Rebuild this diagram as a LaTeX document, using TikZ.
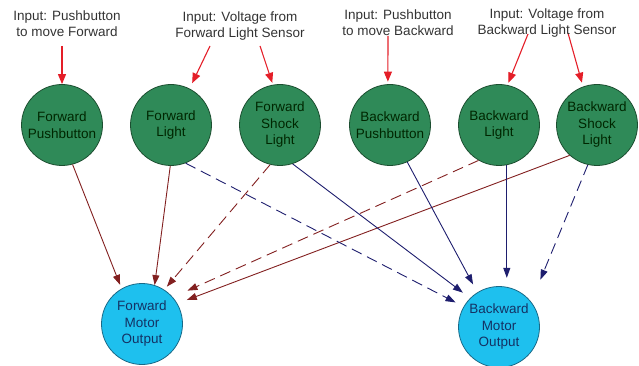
\documentclass[tikz,border=0pt]{standalone}
\usepackage{fontspec}
\setmainfont{Liberation Sans}
\usepackage{xcolor}
\usetikzlibrary{arrows.meta}

\definecolor{nodegreen}{RGB}{47,138,88}
\definecolor{greenline}{RGB}{28,78,48}
\definecolor{motorcyan}{RGB}{30,192,238}
\definecolor{cyanline}{RGB}{25,105,135}
\definecolor{fwdred}{RGB}{130,32,32}
\definecolor{bwdblue}{RGB}{30,30,110}
\definecolor{inred}{RGB}{228,30,40}

\tikzset{
  sensor/.style={circle,draw=greenline,fill=nodegreen,line width=0.8pt,minimum size=81pt,inner sep=0pt,
    align=center,text=black!85!green,font=\fontsize{13.5}{16.5}\selectfont},
  motor/.style={sensor,draw=cyanline,fill=motorcyan,text={rgb,255:red,20;green,50;blue,100}},
  inlabel/.style={align=center,text=black!80,font=\fontsize{13.5}{16}\selectfont},
  inarrow/.style={inred,line width=1.1pt,-{Triangle[length=10pt,width=8pt]}},
  fwdarrow/.style={fwdred,line width=0.9pt,-{Triangle[length=10pt,width=7pt]}},
  bwdarrow/.style={bwdblue,line width=0.9pt,-{Triangle[length=10pt,width=7pt]}},
  dashline/.style={dash pattern=on 11pt off 6pt}
}

\begin{document}
\begin{tikzpicture}[x=1pt,y=-1pt]
  \useasboundingbox (0,0) rectangle (639,366);

  \node[sensor] (FP) at (62,125) {Forward\\Pushbutton};
  \node[sensor] (FL) at (171,125) {Forward\\Light};
  \node[sensor] (FS) at (280,125) {Forward\\Shock\\Light};
  \node[sensor] (BP) at (390,125) {Backward\\Pushbutton};
  \node[sensor] (BL) at (499,125) {Backward\\Light};
  \node[sensor] (BS) at (597,125) {Backward\\Shock\\Light};
  \node[motor] (FM) at (142,324) {Forward\\Motor\\Output};
  \node[motor] (BM) at (499,327) {Backward\\Motor\\Output};

  \coordinate (I1) at (62,46);
  \coordinate (I2) at (210,46);
  \coordinate (I3) at (260,46);
  \coordinate (I4) at (388,36);
  \coordinate (I5) at (528,34);
  \coordinate (I6) at (568,33);

  \draw[inarrow] (I1) -- (FP.north);
  \draw[inarrow,shorten >=6pt] (I2) -- (FL.63);
  \draw[inarrow,shorten >=2pt] (I3) -- (FS.100);
  \draw[inarrow,shorten >=2.5pt] (I4) -- (BP.93);
  \draw[inarrow,shorten >=2.5pt] (I5) -- (BL.78);
  \draw[inarrow,shorten >=4pt] (I6) -- (BS.110);

  \node[inlabel] (L1) at (67,24) {Input: Pushbutton\\to move Forward};
  \node[inlabel] (L2) at (240,26) {Input: Voltage from\\Forward Light Sensor};
  \node[inlabel] (L3) at (398,23) {Input: Pushbutton\\to move Backward};
  \node[inlabel] (L4) at (547,23) {Input: Voltage from\\Backward Light Sensor};

  \draw[fwdarrow,shorten >=4pt] (FP.-75) -- (FM.120);
  \draw[fwdarrow] (FL.-91) -- (FM.72);
  \draw[fwdarrow,dashline,shorten >=4pt] (FS.-104) -- (FM.57);
  \draw[fwdarrow,dashline,shorten >=16pt] (BL.-120) -- (FM.41);
  \draw[fwdarrow,shorten >=10pt] (BS.-132) -- (FM.30);

  \draw[bwdarrow,dashline,shorten >=9pt] (FL.-69) -- (BM.150);
  \draw[bwdarrow,shorten >=9pt] (FS.-72) -- (BM.135);
  \draw[bwdarrow,shorten >=9pt] (BP.-65) -- (BM.122);
  \draw[bwdarrow,shorten >=9pt] (BL.-79) -- (BM.79);
  \draw[bwdarrow,dashline,shorten >=24pt] (BS.-103) -- (BM.38);
\end{tikzpicture}
\end{document}
